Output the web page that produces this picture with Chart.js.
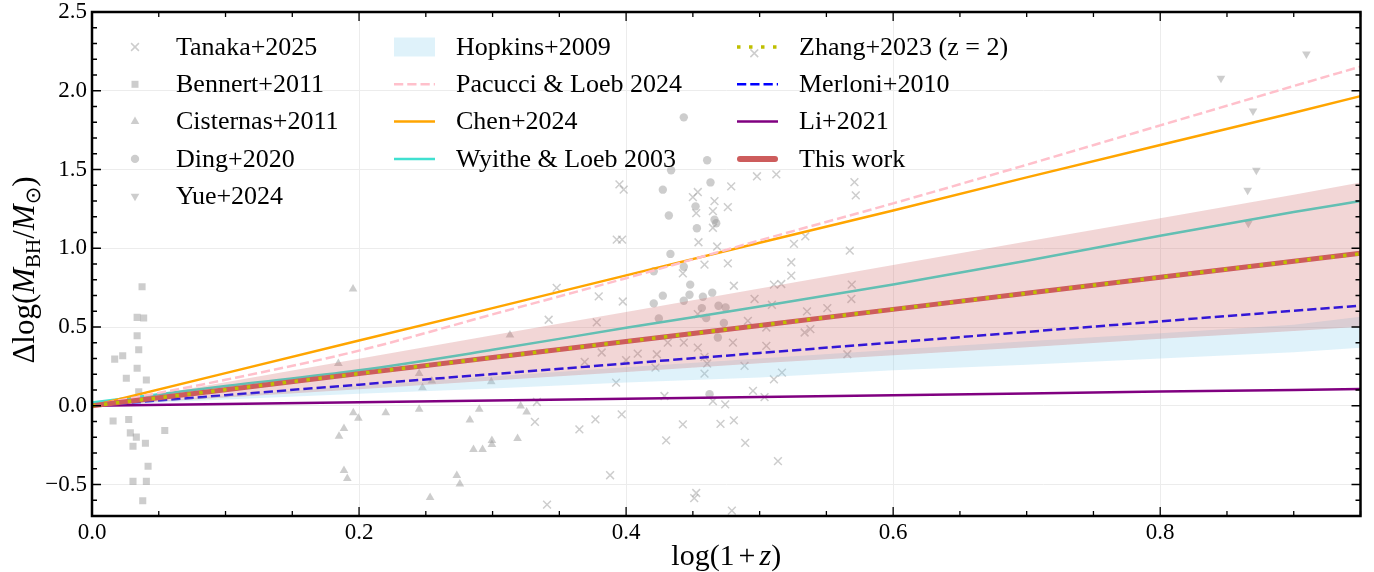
<!DOCTYPE html>
<html>
<head>
<meta charset="utf-8">
<script src="https://cdn.jsdelivr.net/npm/chart.js"></script>
<style>
  html, body { margin: 0; padding: 0; background: #fff; }
  canvas { display: block; }
</style>
</head>
<body>
<canvas id="chart" width="1374" height="572"></canvas>
<script>
// --- data ---
// scatter samples: log(1+z) and delta log(M_BH/M_sun)
const tanakaX = [0.348, 0.3795, 0.3975, 0.393, 0.397, 0.342, 0.378, 0.3817, 0.369, 0.4, 0.4087, 0.423, 0.422, 0.3925,
  0.3332, 0.3317, 0.365, 0.377, 0.3967, 0.388, 0.3408, 0.395, 0.3982, 0.498, 0.5125, 0.4787, 0.45, 0.4537, 0.4662,
  0.4762, 0.4525, 0.465, 0.465, 0.4542, 0.4682, 0.571, 0.572, 0.5257, 0.5342, 0.5675, 0.4587, 0.4762, 0.4425, 0.5237,
  0.5237, 0.5107, 0.5162, 0.4807, 0.4962, 0.5092, 0.5507, 0.5355, 0.5687, 0.569, 0.4537, 0.4912, 0.505, 0.5337, 0.538,
  0.4312, 0.4432, 0.4537, 0.48, 0.505, 0.4587, 0.4607, 0.4587, 0.4887, 0.5657, 0.5107, 0.5167, 0.4287, 0.495, 0.5037,
  0.465, 0.4742, 0.4425, 0.4707, 0.4807, 0.43, 0.4892, 0.5137, 0.4525, 0.451, 0.4792, 0.496];
const tanakaY = [0.748, 0.694, 0.662, 1.055, 1.055, 0.546, 0.529, 0.338, 0.278, 0.289, 0.331, 0.327, 0.242, 0.147,
  0.024, -0.102, -0.15, -0.087, -0.055, -0.441, -0.628, 1.406, 1.372, 1.457, 1.469, 1.393, 1.325, 1.357, 1.299,
  1.261, 1.223, 1.236, 1.13, 1.038, 1.011, 1.42, 1.336, 1.028, 1.076, 0.985, 0.896, 0.904, 0.841, 0.911,
  0.826, 0.769, 0.773, 0.762, 0.678, 0.641, 0.62, 0.599, 0.678, 0.769, 0.582, 0.539, 0.497, 0.465, 0.487,
  0.401, 0.401, 0.369, 0.401, 0.38, 0.31, 0.268, 0.204, 0.253, 0.327, 0.168, 0.21, 0.062, 0.094, 0.055,
  0.03, 0.009, -0.118, -0.115, -0.093, -0.22, -0.236, -0.352, -0.554, -0.586, -0.666, 2.238];

const bennertX = [0.0375, 0.0338, 0.0387, 0.0338, 0.035, 0.017, 0.023, 0.0257, 0.0338, 0.0407, 0.035, 0.0158,
  0.0275, 0.0287, 0.0332, 0.0307, 0.04, 0.0545, 0.042, 0.0307, 0.0407, 0.038];
const bennertY = [0.756, 0.561, 0.557, 0.444, 0.355, 0.296, 0.318, 0.175, 0.238, 0.164, 0.089, -0.097,
  -0.087, -0.172, -0.199, -0.257, -0.238, -0.157, -0.384, -0.48, -0.48, -0.603];

const cisternasX = [0.1955, 0.1845, 0.1957, 0.1995, 0.1887, 0.185, 0.1887, 0.1912, 0.313, 0.245, 0.2475, 0.299,
  0.22, 0.245, 0.29, 0.283, 0.321, 0.3255, 0.2995, 0.2995, 0.2857, 0.2925, 0.3187, 0.2732, 0.2755, 0.2532, 0.2545];
const cisternasY = [0.741, 0.268, -0.045, -0.08, -0.144, -0.193, -0.411, -0.462, 0.45, 0.204, 0.115, 0.153,
  -0.045, -0.023, -0.023, -0.091, -0.002, -0.04, -0.22, -0.246, -0.278, -0.278, -0.208, -0.443, -0.497, -0.582, 0.157];

const dingX = [0.4432, 0.4607, 0.4337, 0.4275, 0.4632, 0.452, 0.432, 0.453, 0.4662, 0.4675, 0.4332, 0.4207, 0.4432,
  0.448, 0.4275, 0.4475, 0.4207, 0.4432, 0.4575, 0.4645, 0.4567, 0.4692, 0.4745, 0.4245, 0.46, 0.4732, 0.4687, 0.4625];
const dingY = [1.831, 1.559, 1.495, 1.372, 1.418, 1.266, 1.208, 1.127, 1.181, 1.159, 0.964, 0.854, 0.883,
  0.769, 0.699, 0.705, 0.65, 0.667, 0.692, 0.718, 0.62, 0.635, 0.624, 0.554, 0.557, 0.525, 0.433, 0.073];

const yueX = [0.9095, 0.8455, 0.8695, 0.872, 0.8655, 0.866];
const yueY = [2.234, 2.079, 1.871, 1.495, 1.368, 1.159];

// relations sampled on a common grid
const zGrid = [0, 0.1, 0.2, 0.3, 0.4, 0.5, 0.6, 0.7, 0.8, 0.9, 0.95];
const pacucci = [0, 0.165, 0.35, 0.58, 0.81, 1.05, 1.285, 1.53, 1.78, 2.03, 2.153];
const chen = [0, 0.207, 0.414, 0.62, 0.828, 1.035, 1.24, 1.45, 1.655, 1.86, 1.966];
const wyithe = [0.02, 0.125, 0.225, 0.355, 0.495, 0.63, 0.77, 0.92, 1.08, 1.23, 1.30];
const merloni = [0, 0.067, 0.134, 0.201, 0.268, 0.335, 0.402, 0.469, 0.536, 0.603, 0.636];
const li = [0, 0.011, 0.022, 0.034, 0.045, 0.056, 0.067, 0.078, 0.09, 0.10, 0.106];
const zhang = [0, 0.102, 0.204, 0.306, 0.408, 0.51, 0.612, 0.714, 0.816, 0.918, 0.965];
const thisWork = [0, 0.102, 0.204, 0.306, 0.408, 0.51, 0.612, 0.714, 0.816, 0.918, 0.968];
const thisWorkHigh = [0, 0.149, 0.298, 0.447, 0.596, 0.745, 0.894, 1.043, 1.19, 1.34, 1.417];
const thisWorkLow = [0, 0.052, 0.105, 0.16, 0.215, 0.27, 0.32, 0.372, 0.425, 0.475, 0.502];
const hopkinsHigh = [0, 0.065, 0.125, 0.185, 0.245, 0.30, 0.355, 0.41, 0.46, 0.515, 0.565];
const hopkinsLow = [0, 0.04, 0.076, 0.11, 0.148, 0.18, 0.225, 0.26, 0.30, 0.34, 0.369];

const xTickValues = [0, 0.2, 0.4, 0.6, 0.8];
const yTickValues = [-0.5, 0, 0.5, 1.0, 1.5, 2.0, 2.5];

const FONT = '"Liberation Serif", "Times New Roman", serif';
const GRAY = 'rgba(150,150,150,0.48)';
const HOPKINS_FILL = 'rgba(135,206,235,0.27)';
const TW_FILL = 'rgba(205,92,92,0.25)';

function pts(xs, ys) {
    return xs.map((x, i) => ({ x: x, y: ys[i] }));
}

function lineSet(label, ys, color, width, dash, order, smooth) {
    return {
        label: label,
        type: 'line',
        data: pts(zGrid, ys),
        borderColor: color,
        borderWidth: width,
        borderDash: dash || [],
        pointRadius: 0,
        fill: false,
        cubicInterpolationMode: smooth ? 'monotone' : 'default',
        order: order
    };
}

function bandSet(label, ys, color, fill, order) {
    return {
        label: label,
        type: 'line',
        data: pts(zGrid, ys),
        borderColor: 'transparent',
        borderWidth: 0,
        backgroundColor: color,
        pointRadius: 0,
        fill: fill,
        order: order
    };
}

const datasets = [
    { label: 'Tanaka+2025', type: 'scatter', data: pts(tanakaX, tanakaY), pointStyle: 'crossRot',
      pointRadius: 5.5, borderColor: GRAY, backgroundColor: GRAY, borderWidth: 1.5, order: 10 },
    { label: 'Bennert+2011', type: 'scatter', data: pts(bennertX, bennertY), pointStyle: 'rect',
      pointRadius: 5, backgroundColor: GRAY, borderColor: GRAY, borderWidth: 0, order: 10 },
    { label: 'Cisternas+2011', type: 'scatter', data: pts(cisternasX, cisternasY), pointStyle: 'triangle',
      pointRadius: 5, backgroundColor: GRAY, borderColor: GRAY, borderWidth: 0, order: 10 },
    { label: 'Ding+2020', type: 'scatter', data: pts(dingX, dingY), pointStyle: 'circle',
      pointRadius: 4.2, backgroundColor: GRAY, borderColor: GRAY, borderWidth: 0, order: 10 },
    { label: 'Yue+2024', type: 'scatter', data: pts(yueX, yueY), pointStyle: 'triangle', rotation: 180,
      pointRadius: 5, backgroundColor: GRAY, borderColor: GRAY, borderWidth: 0, order: 10 },
    bandSet('Hopkins+2009', hopkinsHigh, HOPKINS_FILL, '+1', 4),
    bandSet('Hopkins low', hopkinsLow, HOPKINS_FILL, false, 4),
    lineSet('Pacucci & Loeb 2024', pacucci, '#ffc0cb', 2.5, [9.25, 4], 5, true),
    lineSet('Chen+2024', chen, '#ffa500', 2.5, null, 5, false),
    lineSet('Wyithe & Loeb 2003', wyithe, '#40e0d0', 2.5, null, 5, true),
    lineSet('Merloni+2010', merloni, '#0000ff', 2.5, [9.25, 4], 5, false),
    lineSet('Li+2021', li, '#800080', 2.5, null, 5, false),
    bandSet('This work band', thisWorkHigh, TW_FILL, '+1', 3),
    bandSet('This work low', thisWorkLow, TW_FILL, false, 3),
    lineSet('This work', thisWork, '#cd5c5c', 5, null, 2, false),
    lineSet('Zhang+2023 (z = 2)', zhang, '#bfbf00', 3.5, [3.5, 8.5], 1, false)
];

// legend entries, three columns like the original
const legendCols = [
    { handle: 135, text: 176, items: [
        { kind: 'marker', style: 'crossRot', text: 'Tanaka+2025' },
        { kind: 'marker', style: 'rect', text: 'Bennert+2011' },
        { kind: 'marker', style: 'triangle', text: 'Cisternas+2011' },
        { kind: 'marker', style: 'circle', text: 'Ding+2020' },
        { kind: 'marker', style: 'triangleDown', text: 'Yue+2024' }
    ] },
    { handle: 394, text: 456, items: [
        { kind: 'patch', color: HOPKINS_FILL, text: 'Hopkins+2009' },
        { kind: 'line', color: '#ffc0cb', width: 2.5, dash: [9.25, 4], text: 'Pacucci & Loeb 2024' },
        { kind: 'line', color: '#ffa500', width: 2.5, dash: [], text: 'Chen+2024' },
        { kind: 'line', color: '#40e0d0', width: 2.5, dash: [], text: 'Wyithe & Loeb 2003' }
    ] },
    { handle: 737, text: 799, items: [
        { kind: 'line', color: '#bfbf00', width: 3.5, dash: [3.5, 8.5], text: 'Zhang+2023 (z = 2)' },
        { kind: 'line', color: '#0000ff', width: 2.5, dash: [9.25, 4], text: 'Merloni+2010' },
        { kind: 'line', color: '#800080', width: 2.5, dash: [], text: 'Li+2021' },
        { kind: 'line', color: '#cd5c5c', width: 6, dash: [], cap: 'round', text: 'This work' }
    ] }
];

function drawMarker(ctx, style, x, y) {
    ctx.save();
    ctx.fillStyle = GRAY;
    ctx.strokeStyle = GRAY;
    ctx.lineWidth = 1.5;
    ctx.beginPath();
    if (style === 'crossRot') {
        const d = 3.9;
        ctx.moveTo(x - d, y - d); ctx.lineTo(x + d, y + d);
        ctx.moveTo(x - d, y + d); ctx.lineTo(x + d, y - d);
        ctx.stroke();
    } else if (style === 'rect') {
        ctx.rect(x - 3.5, y - 3.5, 7, 7);
        ctx.fill();
    } else if (style === 'circle') {
        ctx.arc(x, y, 4.2, 0, Math.PI * 2);
        ctx.fill();
    } else {
        const s = style === 'triangle' ? 1 : -1;
        ctx.moveTo(x, y - 5 * s);
        ctx.lineTo(x + 4.33, y + 2.5 * s);
        ctx.lineTo(x - 4.33, y + 2.5 * s);
        ctx.closePath();
        ctx.fill();
    }
    ctx.restore();
}

// draw a row of text pieces (used for math-like axis titles)
function drawPieces(ctx, pieces, cx, baseY) {
    let total = 0;
    pieces.forEach(p => {
        ctx.font = p.font;
        p.w = ctx.measureText(p.t).width + (p.gap || 0) * 2;
        total += p.w;
    });
    let x = cx - total / 2;
    pieces.forEach(p => {
        ctx.font = p.font;
        ctx.fillText(p.t, x + (p.gap || 0), baseY + (p.dy || 0));
        x += p.w;
    });
}

const decor = {
    id: 'decor',
    afterDraw(chart) {
        const ctx = chart.ctx;
        const xs = chart.scales.x;
        const ys = chart.scales.y;
        const a = chart.chartArea;
        ctx.save();

        // inward ticks on all four sides
        ctx.strokeStyle = '#000';
        ctx.lineWidth = 1.3;
        ctx.beginPath();
        for (let i = 0; i <= 19; i++) {
            const v = i * 0.05;
            const len = (i % 4 === 0) ? 9 : 5;
            const px = xs.getPixelForValue(v);
            ctx.moveTo(px, a.bottom); ctx.lineTo(px, a.bottom - len);
            ctx.moveTo(px, a.top); ctx.lineTo(px, a.top + len);
        }
        for (let i = -7; i <= 25; i++) {
            const v = i * 0.1;
            const len = (i % 5 === 0) ? 9 : 5;
            const py = ys.getPixelForValue(v);
            ctx.moveTo(a.left, py); ctx.lineTo(a.left + len, py);
            ctx.moveTo(a.right, py); ctx.lineTo(a.right - len, py);
        }
        ctx.stroke();

        // frame
        ctx.lineWidth = 2.5;
        ctx.strokeRect(a.left, a.top, a.right - a.left, a.bottom - a.top);

        // legend
        const row0 = 47, rowStep = 37.3;
        ctx.textBaseline = 'middle';
        ctx.textAlign = 'left';
        legendCols.forEach(col => {
            col.items.forEach((it, r) => {
                const y = row0 + r * rowStep;
                if (it.kind === 'marker') {
                    drawMarker(ctx, it.style, col.handle, y);
                } else if (it.kind === 'patch') {
                    ctx.fillStyle = it.color;
                    ctx.fillRect(col.handle, y - 9.5, 41, 19);
                } else {
                    ctx.save();
                    ctx.strokeStyle = it.color;
                    ctx.lineWidth = it.width;
                    ctx.setLineDash(it.dash);
                    ctx.lineCap = it.cap || 'butt';
                    ctx.beginPath();
                    ctx.moveTo(col.handle + (it.cap ? 3 : 0), y);
                    ctx.lineTo(col.handle + 41 - (it.cap ? 3 : 0), y);
                    ctx.stroke();
                    ctx.restore();
                }
                ctx.fillStyle = '#000';
                ctx.font = '26px ' + FONT;
                ctx.fillText(it.text, col.text, y + 1);
            });
        });

        // axis titles
        ctx.fillStyle = '#000';
        ctx.textBaseline = 'alphabetic';
        ctx.textAlign = 'left';
        const big = '30px ' + FONT;
        const bigIt = 'italic 30px ' + FONT;
        drawPieces(ctx, [
            { t: 'log(1', font: big },
            { t: '+', font: big, gap: 4 },
            { t: 'z', font: bigIt },
            { t: ')', font: big }
        ], (a.left + a.right) / 2, 565);

        ctx.translate(34, (a.top + a.bottom) / 2 + 6);
        ctx.rotate(-Math.PI / 2);
        const sub = '21px ' + FONT + ', "DejaVu Sans"';
        drawPieces(ctx, [
            { t: '\u0394log(', font: '31px ' + FONT },
            { t: 'M', font: 'italic 31px ' + FONT },
            { t: 'BH', font: sub, dy: 6 },
            { t: '/', font: '31px ' + FONT },
            { t: 'M', font: 'italic 31px ' + FONT },
            { t: '\u2299', font: sub, dy: 6 },
            { t: ')', font: '31px ' + FONT }
        ], 0, 0);
        ctx.restore();
    }
};

new Chart(document.getElementById('chart'), {
    type: 'line',
    data: { datasets: datasets },
    options: {
        responsive: false,
        devicePixelRatio: 1,
        animation: false,
        layout: { padding: { top: 12, right: 13.5, bottom: 0, left: 0 } },
        plugins: {
            legend: { display: false },
            tooltip: { enabled: false }
        },
        scales: {
            x: {
                type: 'linear',
                min: 0,
                max: 0.95,
                afterBuildTicks: s => { s.ticks = xTickValues.map(v => ({ value: v })); },
                afterFit: s => {
                    s.height = 56;
                    s.paddingLeft = 0; s.paddingRight = 0;
                },
                ticks: {
                    autoSkip: false,
                    maxRotation: 0,
                    padding: 3,
                    color: '#000',
                    font: { family: FONT, size: 23 },
                    callback: v => v.toFixed(1)
                },
                grid: { color: '#ececec', lineWidth: 1, drawTicks: false },
                border: { display: false }
            },
            y: {
                type: 'linear',
                min: -0.7,
                max: 2.5,
                afterBuildTicks: s => { s.ticks = yTickValues.map(v => ({ value: v })); },
                afterFit: s => {
                    s.width = 92;
                    s.paddingTop = 0; s.paddingBottom = 0;
                },
                ticks: {
                    autoSkip: false,
                    padding: 5,
                    color: '#000',
                    font: { family: FONT, size: 23 },
                    callback: v => (v < 0 ? '\u2212' : '') + Math.abs(v).toFixed(1)
                },
                grid: { color: '#ececec', lineWidth: 1, drawTicks: false },
                border: { display: false }
            }
        }
    },
    plugins: [decor]
});
</script>
</body>
</html>
